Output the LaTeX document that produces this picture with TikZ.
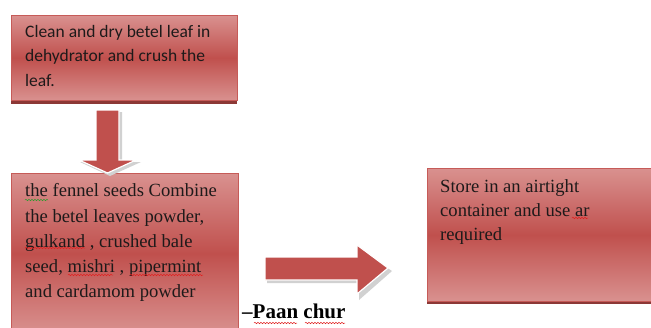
\documentclass[tikz,border=0pt]{standalone}
\usepackage{fontspec}
\setmainfont{Liberation Serif}
\newfontfamily\calfont{Carlito}
\usetikzlibrary{decorations.pathmorphing}
\definecolor{boxmid}{HTML}{C0504D}
\definecolor{boxlight}{HTML}{D9918F}
\definecolor{boxedge}{HTML}{C65B58}
\definecolor{boxshadow}{HTML}{8C3836}
\definecolor{txt}{HTML}{1E1A1A}
\definecolor{squigred}{HTML}{E02020}
\definecolor{squiggreen}{HTML}{2E9A2E}
\tikzset{
  stepbox/.style={draw=boxedge, line width=0.8pt, top color=boxlight, bottom color=boxlight, middle color=boxmid},
  boxtext/.style={anchor=north west, inner sep=0pt, align=left, text=txt},
  blockarrow/.style={fill=boxmid, draw=white, line width=1.2pt},
  arrowshadow/.style={fill=black!18},
  squig/.style={decorate, decoration={snake, amplitude=0.7pt, segment length=3pt}, line width=0.5pt, draw=squigred}
}
\begin{document}
\begin{tikzpicture}[x=1pt,y=-1pt]
\useasboundingbox (0,0) rectangle (651,327);
\fill[white] (0,0) rectangle (651,327);
% box 1
\fill[boxshadow] (11,99) rectangle (237,104);
\node[stepbox, minimum width=226pt, minimum height=85pt, anchor=north west, inner sep=0pt] (b1) at (11,15) {};
\node[boxtext, font=\calfont\fontsize{17.5}{24.5}\selectfont] (t1) at (25,25) {Clean and dry betel leaf in\\dehydrator and crush the\\leaf.};
% box 2
\node[stepbox, minimum width=227pt, minimum height=160pt, anchor=north west, inner sep=0pt] (b2) at (11,173) {};
\node[boxtext, font=\fontsize{18.6}{25.2}\selectfont] (t2) at (25,183.5) {the fennel seeds Combine\\the betel leaves powder,\\gulkand , crushed bale\\seed, mishri , pipermint\\and cardamom powder};
% box 3
\fill[boxshadow] (427,300) rectangle (655,304);
\node[stepbox, minimum width=228pt, minimum height=133pt, anchor=north west, inner sep=0pt] (b3) at (427,168) {};
\node[boxtext, font=\fontsize{18.6}{24}\selectfont] (t3) at (440,179) {Store in an airtight\\container and use ar\\required};
% down arrow
\fill[arrowshadow] (99,112) -- (122,112) -- (122,162) -- (141,162) -- (110,176) -- (80,162) -- (99,162) -- cycle;
\path[blockarrow] (96,110) -- (119,110) -- (119,160) -- (136,160) -- (107.5,173) -- (79,160) -- (96,160) -- cycle;
% right arrow
\fill[arrowshadow] (267,260) -- (359,260) -- (359,249) -- (392,271) -- (359,300) -- (359,283) -- (267,283) -- cycle;
\path[blockarrow] (265,257) -- (357,257) -- (357,245) -- (388,268) -- (357,294) -- (357,280) -- (265,280) -- cycle;
% label
\node[anchor=base west, inner sep=0pt, font=\bfseries\fontsize{21}{23}\selectfont, text=black] (lab) at (242,318) {–Paan chur};
% spelling marks
\draw[squig, draw=squiggreen] (25,200) -- (48,200);
\draw[squig] (25,248) -- (85,248);
\draw[squig] (68,275) -- (113,275);
\draw[squig] (130,275) -- (203,275);
\draw[squig] (572,218) -- (588,218);
\draw[squig] (254,323) -- (297,323);
\draw[squig] (305,323) -- (345,323);
\end{tikzpicture}
\end{document}
